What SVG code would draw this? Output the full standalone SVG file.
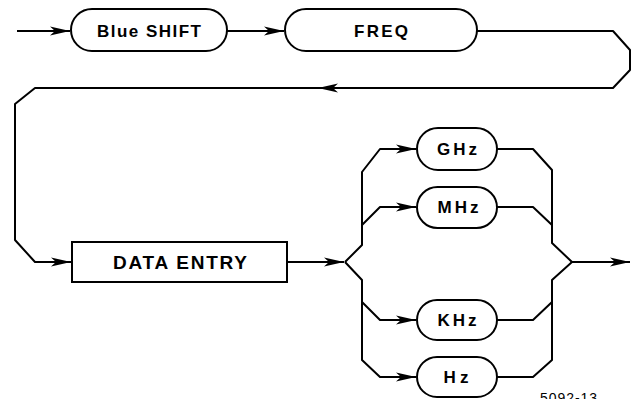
<svg xmlns="http://www.w3.org/2000/svg" width="639" height="399" viewBox="0 0 639 399">
<style>
.ln{fill:none;stroke:#000;stroke-width:2;stroke-linejoin:round}
.bx{fill:#fff;stroke:#000;stroke-width:2}
.tx{font-family:"Liberation Sans",Arial,sans-serif;font-weight:bold;font-size:17px;text-anchor:middle;fill:#000}
.lb{font-family:"Liberation Sans",Arial,sans-serif;font-size:14px;fill:#000}
</style>
<defs>
<marker id="ah" markerUnits="userSpaceOnUse" markerWidth="22" markerHeight="12" refX="20" refY="6" orient="auto" viewBox="0 0 22 12">
<path d="M0,1.5 L20,6 L0,10.5 L5,6 z" fill="#000"/>
</marker>
</defs>
<g id="connectors">
<path class="ln" d="M17,31 H70" marker-end="url(#ah)"/>
<path class="ln" d="M227,31 H284" marker-end="url(#ah)"/>
<path class="ln" d="M477,31 H613 L630,50 V70 L613,88 H318" marker-end="url(#ah)"/>
<path class="ln" d="M320,88 H35 L15,104 V240 L35,262 H71" marker-end="url(#ah)"/>
<path class="ln" d="M287,262 H344" marker-end="url(#ah)"/>
<path class="ln" d="M345,262 L362,245 V172 L380,149 H416" marker-end="url(#ah)"/>
<path class="ln" d="M362,225 L380,207 H416" marker-end="url(#ah)"/>
<path class="ln" d="M345,262 L362,280 V360 L380,377 H416" marker-end="url(#ah)"/>
<path class="ln" d="M362,302 L380,320 H416" marker-end="url(#ah)"/>
<path class="ln" d="M497,149 H533 L552,170 V243 L572,262"/>
<path class="ln" d="M497,207 H533 L552,225"/>
<path class="ln" d="M497,320 H533 L552,302"/>
<path class="ln" d="M497,377 H533 L552,360 V280 L572,262"/>
<path class="ln" d="M572,262 H630" marker-end="url(#ah)"/>
</g>
<g id="blue-shift">
<rect class="bx" x="71" y="9" width="156" height="42" rx="21"/>
<text class="tx" x="149" y="37" textLength="104" lengthAdjust="spacing">Blue SHIFT</text>
</g>
<g id="freq">
<rect class="bx" x="285" y="9" width="192" height="42" rx="21"/>
<text class="tx" x="381" y="37" textLength="54" lengthAdjust="spacing">FREQ</text>
</g>
<g id="data-entry">
<rect class="bx" x="72" y="242" width="215" height="40"/>
<text class="tx" x="180" y="269" style="font-size:19px" textLength="134" lengthAdjust="spacing">DATA ENTRY</text>
</g>
<g id="ghz">
<rect class="bx" x="417" y="128" width="80" height="42" rx="21"/>
<text class="tx" x="457" y="155" textLength="40" lengthAdjust="spacing">GHz</text>
</g>
<g id="mhz">
<rect class="bx" x="417" y="187" width="80" height="41" rx="20.5"/>
<text class="tx" x="458" y="213" textLength="41" lengthAdjust="spacing">MHz</text>
</g>
<g id="khz">
<rect class="bx" x="417" y="300" width="80" height="40" rx="20"/>
<text class="tx" x="457" y="326" textLength="39" lengthAdjust="spacing">KHz</text>
</g>
<g id="hz">
<rect class="bx" x="417" y="357" width="80" height="40" rx="20"/>
<text class="tx" x="456" y="383" textLength="25" lengthAdjust="spacing">Hz</text>
</g>
<text class="lb" x="540" y="403" textLength="57" lengthAdjust="spacing">5092-13</text>
</svg>
